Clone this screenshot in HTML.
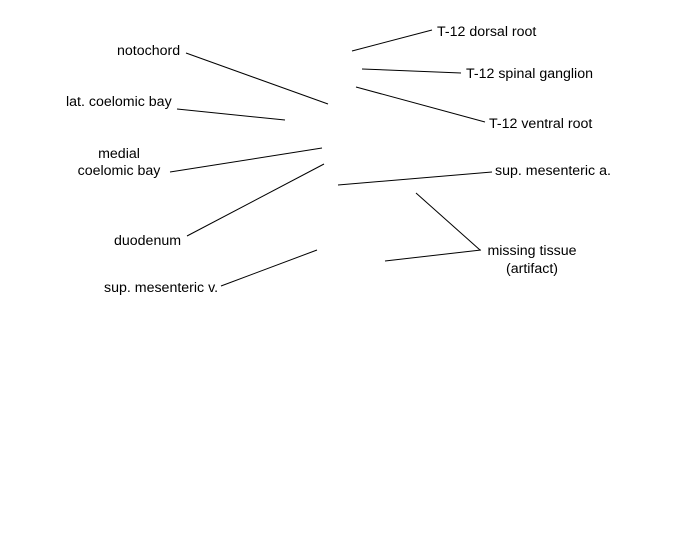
<!DOCTYPE html>
<html><head><style>html,body{margin:0;padding:0;background:#fff}svg{display:block}</style></head>
<body>
<svg width="675" height="550" xmlns="http://www.w3.org/2000/svg" font-family="Liberation Sans, Arial, sans-serif" font-size="14.2" fill="#000">
<g stroke="#000" stroke-width="1">
<line x1="186" y1="53" x2="328" y2="104"/>
<line x1="177" y1="109" x2="285" y2="120"/>
<line x1="170" y1="172" x2="322" y2="148"/>
<line x1="187" y1="236" x2="324" y2="164"/>
<line x1="221" y1="286" x2="317" y2="250"/>
<line x1="352" y1="51" x2="432" y2="30"/>
<line x1="362" y1="69" x2="461" y2="73"/>
<line x1="356" y1="87" x2="485" y2="122"/>
<line x1="338" y1="185" x2="492" y2="172"/>
<line x1="416" y1="193" x2="480" y2="250"/>
<line x1="385" y1="261" x2="481" y2="250"/>
</g>
<text x="117" y="55">notochord</text>
<text x="66" y="106">lat. coelomic bay</text>
<text x="119" y="158" text-anchor="middle">medial</text>
<text x="119" y="175" text-anchor="middle">coelomic bay</text>
<text x="114" y="245">duodenum</text>
<text x="104" y="292">sup. mesenteric v.</text>
<text x="437" y="36">T-12 dorsal root</text>
<text x="466" y="78">T-12 spinal ganglion</text>
<text x="489" y="128">T-12 ventral root</text>
<text x="495" y="175">sup. mesenteric a.</text>
<text x="532" y="255" text-anchor="middle">missing tissue</text>
<text x="532" y="273" text-anchor="middle">(artifact)</text>
</svg>
</body></html>
